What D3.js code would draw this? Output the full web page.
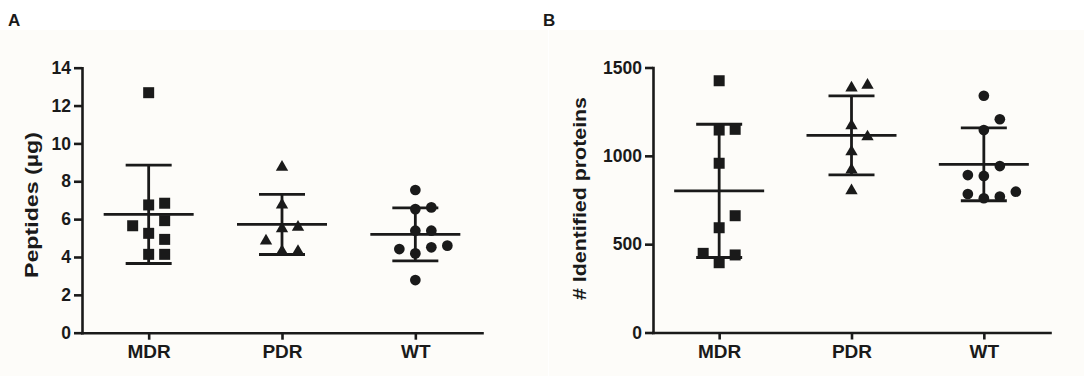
<!DOCTYPE html>
<html>
<head>
<meta charset="utf-8">
<script src="https://cdn.jsdelivr.net/npm/d3@7"></script>
<style>
  body { margin: 0; background: #fff; }
  text { font-family: 'Liberation Sans', Arial, sans-serif; fill: #1a1a1a; }
  .axis path, .axis line { stroke: #1a1a1a; stroke-width: 2.6px; }
  .axis path { stroke-linecap: square; }
  .axis text { font-weight: bold; fill: #1a1a1a; }
  .stat { stroke: #1a1a1a; stroke-width: 2.8px; }
</style>
</head>
<body>
<svg width="1084" height="385"></svg>
<script>
(function(d3) {
  'use strict';

  const groups = ['MDR', 'PDR', 'WT'];

  // Panel A: peptide amount (µg) per sample
  const peptidesMDR = [12.68, 6.75, 6.84, 5.25, 5.92, 5.65, 4.14, 4.14, 4.93];
  const peptidesPDR = [8.75, 6.75, 5.5, 4.3, 4.3, 4.85, 5.58];
  const peptidesWT = [7.54, 6.53, 6.62, 5.39, 5.39, 4.19, 4.51, 4.42, 4.6, 2.78];

  // Panel B: identified proteins per sample
  const proteinsMDR = [1425, 1146, 1150, 958, 593, 661, 395, 439, 448];
  const proteinsPDR = [1385, 1400, 1171, 1108, 1023, 920, 803];
  const proteinsWT = [1340, 1146, 1207, 886, 942, 891, 760, 769, 784, 797];

  const peptideTicks = [0, 2, 4, 6, 8, 10, 12, 14];
  const proteinTicks = [0, 500, 1000, 1500];

  // one marker shape per group, like the Prism defaults
  const symbols = [d3.symbolSquare, d3.symbolTriangle, d3.symbolCircle];
  const symbolSizes = [121, 66, 90];

  const slotWidth = 16;
  const minGap = 13;

  const svg = d3.select('svg');

  const panels = [
    {
      letter: 'A', letterX: 8, bg: [0, 548],
      x0: 82, x1: 482, yTop: 67.7, yBottom: 332.7,
      domain: [0, 14], ticks: peptideTicks,
      title: 'Peptides (µg)', titleX: 38, titleY: 205, titleLen: 146, titleSize: 19,
      series: [peptidesMDR, peptidesPDR, peptidesWT],
    },
    {
      letter: 'B', letterX: 543, bg: [549, 1084],
      x0: 653, x1: 1050, yTop: 67.5, yBottom: 332.5,
      domain: [0, 1500], ticks: proteinTicks,
      title: '# Identified proteins', titleX: 586, titleY: 198.5, titleLen: 203, titleSize: 18,
      series: [proteinsMDR, proteinsPDR, proteinsWT],
    },
  ];

  // Spread overlapping points sideways: centre first, then right, left, ...
  function dodge(values, y) {
    const order = [0, 1, -1, 2, -2, 3, -3];
    const placed = [];
    return values.map(function(v) {
      const py = y(v);
      const slot = order.find(function(s) {
        return !placed.some(function(p) {
          return p.slot === s && Math.abs(p.py - py) < minGap;
        });
      });
      placed.push({slot: slot, py: py});
      return slot;
    });
  }

  function render(p) {
    svg.append('rect')
        .attr('x', p.bg[0]).attr('y', 30)
        .attr('width', p.bg[1] - p.bg[0]).attr('height', 346)
        .attr('fill', '#fdfcf9');

    svg.append('text')
        .attr('x', p.letterX).attr('y', 26)
        .style('font-size', '17px').style('font-weight', 'bold')
        .text(p.letter);

    const x = d3.scalePoint().domain(groups).range([p.x0, p.x1]).padding(0.5);
    const y = d3.scaleLinear().domain(p.domain).range([p.yBottom, p.yTop]);

    const yAxis = d3.axisLeft(y).tickValues(p.ticks).tickFormat(d3.format('d'))
        .tickSize(8).tickSizeOuter(0).tickPadding(3);
    const xAxis = d3.axisBottom(x).tickSize(7).tickSizeOuter(0).tickPadding(5);

    const yAxisG = svg.append('g').attr('class', 'axis')
        .attr('transform', `translate(${p.x0},0)`).call(yAxis);
    yAxisG.selectAll('text').style('font-size', '17.5px');

    const xAxisG = svg.append('g').attr('class', 'axis')
        .attr('transform', `translate(0,${p.yBottom})`).call(xAxis);
    xAxisG.selectAll('text').style('font-size', '19px');

    svg.append('text')
        .attr('transform', `translate(${p.titleX},${p.titleY}) rotate(-90)`)
        .attr('text-anchor', 'middle')
        .attr('textLength', p.titleLen)
        .attr('lengthAdjust', 'spacingAndGlyphs')
        .style('font-size', p.titleSize + 'px')
        .style('font-weight', 'bold')
        .text(p.title);

    p.series.forEach(function(values, i) {
      const cx = x(groups[i]);
      const mean = d3.mean(values);
      const sd = d3.deviation(values);
      const g = svg.append('g');

      // mean with SD whiskers
      g.append('line').attr('class', 'stat')
          .attr('x1', cx).attr('x2', cx)
          .attr('y1', y(mean - sd)).attr('y2', y(mean + sd));
      g.append('line').attr('class', 'stat')
          .attr('x1', cx - 45).attr('x2', cx + 45)
          .attr('y1', y(mean)).attr('y2', y(mean));
      [mean - sd, mean + sd].forEach(function(v) {
        g.append('line').attr('class', 'stat')
            .attr('x1', cx - 23).attr('x2', cx + 23)
            .attr('y1', y(v)).attr('y2', y(v));
      });

      const slots = dodge(values, y);
      const symbol = d3.symbol().type(symbols[i]).size(symbolSizes[i]);
      g.selectAll('path.dot').data(values).enter()
          .append('path')
          .attr('class', 'dot')
          .attr('fill', '#1a1a1a')
          .attr('d', symbol)
          .attr('transform', function(d, j) {
            return `translate(${cx + slots[j] * slotWidth},${y(d)})`;
          });
    });
  }

  panels.forEach(render);
}(d3));
</script>
</body>
</html>
